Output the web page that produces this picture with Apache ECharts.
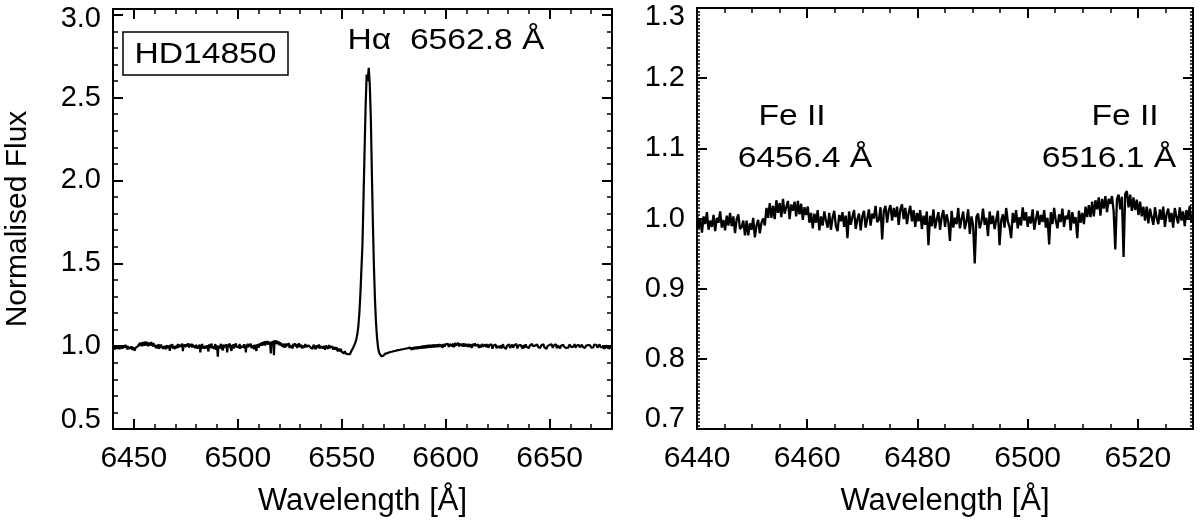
<!DOCTYPE html>
<html><head><meta charset="utf-8">
<script src="https://cdn.jsdelivr.net/npm/echarts@6/dist/echarts.min.js"></script>
<style>html,body{margin:0;padding:0;background:#fff}#c{width:1200px;height:522px}</style>
</head><body><div id="c"></div><script>
// ---- tick labels ----
const leftXTicks = [6450, 6500, 6550, 6600, 6650];
const leftYTicks = [0.5, 1.0, 1.5, 2.0, 2.5, 3.0];
const rightXTicks = [6440, 6460, 6480, 6500, 6520];
const rightYTicks = [0.7, 0.8, 0.9, 1.0, 1.1, 1.2, 1.3];

// ---- spectrum, part A: 6440 .. 6530 A, sampled every 0.3 A ----
const specAStart = 6440, specAStep = 0.3;
const specA = [
1.007,0.986,0.999,0.980,1.003,0.992,1.009,0.984,0.997,0.988,
1.005,0.982,1.001,0.994,1.010,0.987,0.998,0.983,1.004,0.990,
1.008,0.989,1.003,0.979,0.999,1.006,0.985,0.988,0.997,0.976,
0.997,0.976,0.993,0.984,1.001,0.973,0.990,0.998,0.979,0.994,
1.000,0.990,1.015,1.001,1.022,1.001,1.018,0.999,1.026,1.008,
1.022,1.002,1.028,1.007,1.016,1.025,0.999,1.020,1.011,1.024,
1.003,1.025,1.006,1.021,0.998,1.016,1.005,1.017,0.994,1.008,
0.986,1.007,0.994,1.012,0.983,1.003,0.990,1.010,0.997,0.987,
1.008,0.984,1.001,1.011,0.989,0.982,1.005,0.996,1.009,0.988,
1.004,0.972,1.010,0.991,1.002,1.012,0.985,0.999,1.007,0.983,
1.003,1.011,0.987,1.000,1.013,0.990,1.007,1.000,1.018,0.995,
0.998,1.016,0.970,1.011,1.018,0.994,1.012,1.019,0.997,1.015,
1.002,1.017,0.991,1.013,1.020,0.999,1.015,0.992,1.008,1.018,
0.996,1.012,0.988,1.008,0.996,1.012,0.985,1.004,0.991,1.010,
0.962,1.004,0.989,1.013,0.986,0.999,1.009,0.984,1.002,1.012,
0.988,1.006,0.995,0.968,1.011,0.987,1.001,0.992,1.015,0.986,
0.999,1.010,0.985,0.996,1.013,0.978,1.003,0.990,0.936,1.002,
1.007,0.986,0.995,1.014,0.991,1.001,0.975,1.010,0.992,1.004,
0.985,0.998,1.011,0.962,0.997,1.006,0.987,1.015,0.996,0.988,
0.972,1.008,0.994,1.012,0.986,1.002,0.990,1.016,0.997,1.009,
0.988,1.003,0.993,1.013,0.984,0.999,1.011,0.991,1.005,0.995,
1.012,0.987,1.001,0.963,1.009,0.992,1.015,0.997,0.986,1.006,
0.995,1.014,0.988,1.004,0.999,1.012,0.983,1.009,0.993,1.002,
0.972,1.011,0.994,1.008,0.992,1.017,1.002,1.019,1.002,1.024,
1.003,1.026,1.013,1.030,1.004,1.028,1.014,1.032,1.009,1.028,
1.021,1.032,1.010,0.956,1.028,1.034,1.013,1.031,0.945,1.035,
1.039,1.016,1.034,1.011,1.030,1.012,1.027,1.005,1.024,1.003,
1.017,0.997,1.017,0.993,1.014,1.002,0.991,1.016,1.001,0.992,
1.013,0.998,1.017,0.988,1.006,1.014,0.995,1.008,0.987,1.015,
1.002,0.993,1.016,0.997,1.010,0.989,1.012,0.999,1.018,0.994,
1.004
];

// ---- spectrum, part B: 6530.5 .. 6680 A, sampled every 0.5 A ----
const specBStart = 6530.5, specBStep = 0.5;
const specB = [
1.008,0.986,1.003,0.990,1.012,0.995,0.983,1.005,1.010,0.992,
1.001,0.984,1.008,0.995,0.981,1.006,0.990,1.010,0.986,1.000,
1.008,0.987,1.002,0.978,1.004,0.992,0.984,1.006,0.990,1.001,
0.999,0.979,0.994,0.979,0.993,0.969,0.985,0.969,0.984,0.966,
0.976,0.957,0.970,0.955,0.967,0.951,0.963,0.952,0.967,0.975,
0.990,1.000,1.020,1.040,1.070,1.120,1.200,1.320,1.470,1.620,
1.900,2.180,2.450,2.640,2.600,2.680,2.580,2.380,2.050,1.740,
1.480,1.280,1.140,1.050,0.990,0.960,0.948,0.940,0.937,0.942,
0.946,0.955,0.944,0.958,0.950,0.963,0.952,0.966,0.955,0.969,
0.960,0.972,0.963,0.976,0.965,0.978,0.968,0.981,0.970,0.983,
0.972,0.986,0.975,0.988,0.977,0.991,0.978,0.993,0.980,0.995,
0.982,0.997,0.983,0.999,0.985,1.000,0.986,1.003,0.987,1.004,
0.988,1.006,0.990,1.007,0.991,1.008,0.992,1.010,0.993,1.009,
0.994,1.011,0.995,1.012,0.996,1.010,0.990,1.013,0.997,1.011,
1.002,1.015,0.995,1.013,1.018,0.999,1.016,0.993,1.019,1.003,
1.012,1.020,0.999,1.014,1.023,1.001,1.017,0.997,1.013,1.021,
0.997,1.014,0.995,1.012,0.989,1.015,1.000,1.017,1.002,0.996,
1.011,0.990,1.008,0.992,1.013,0.998,0.987,1.010,0.995,1.012,
0.990,1.005,0.997,1.012,0.985,1.003,0.993,1.010,0.988,1.001,
1.008,0.990,1.004,0.987,1.012,0.995,1.006,0.983,1.002,0.993,
1.011,0.989,0.998,1.009,0.991,1.006,0.996,1.013,0.986,1.003,
0.993,1.008,0.998,0.985,1.006,0.990,1.011,0.996,1.003,0.988,
1.005,0.994,1.013,0.999,0.987,1.003,0.991,1.010,0.995,1.001,
0.989,1.006,0.996,1.011,0.993,1.003,0.984,1.000,0.991,1.008,
0.998,1.011,0.990,1.003,0.995,1.012,0.988,1.005,0.999,0.987,
1.002,0.993,1.009,0.996,1.006,0.989,1.000,0.991,1.010,0.998,
0.994,1.005,0.998,1.012,0.990,1.003,0.995,1.008,0.993,1.001,
1.009,0.995,1.005,0.989,1.002,0.993,1.007,0.997,1.005,0.991,
1.003,0.993,1.010,0.998,1.007,0.991,1.000,1.011,0.995,1.004,
0.992,1.001,0.986,0.997,1.005,0.989,0.995,0.987,1.000,0.990
];

const starName = 'HD14850';
const lineLabel = 'H\u03b1  6562.8 \u00c5';
const feLeft = ['Fe II', '6456.4 \u00c5'];
const feRight = ['Fe II', '6516.1 \u00c5'];

const pairsA = specA.map((v, i) => [specAStart + specAStep * i, v]);
const pairsB = specB.map((v, i) => [specBStart + specBStep * i, v]);

const FONT = "'Liberation Sans', Arial, Helvetica, sans-serif";
const BLACK = '#000';

function axisGroup(kind, grid, min, max, ticks, minorStep, minorLen, extra, shifts) {
  const pos = kind === 'x' ? ['bottom', 'top'] : ['left', 'right'];
  const fs = kind === 'x' ? 30 : 29;
  const base = { type: 'value', gridIndex: grid, min: min, max: max, splitLine: { show: false }, splitArea: { show: false } };
  const lineOn = { show: true, onZero: false, lineStyle: { color: BLACK, width: 2 } };
  const majorTick = { show: true, inside: true, length: 10, lineStyle: { color: BLACK, width: 2 }, customValues: ticks };
  const minorTick = { show: true, inside: true, length: minorLen, lineStyle: { color: BLACK, width: 1.5 } };
  const rich = {};
  (shifts || []).forEach((s, k) => {
    rich['s' + k] = { fontFamily: FONT, fontSize: fs, color: BLACK, padding: s.padding };
  });
  const fmt = v => {
    const t = kind === 'x' ? String(Math.round(v)) : v.toFixed(1);
    const k = (shifts || []).findIndex(s => Math.abs(s.value - v) < 1e-6);
    return k >= 0 ? '{s' + k + '|' + t + '}' : t;
  };
  return [
    Object.assign({}, base, {
      position: pos[0], axisLine: lineOn, axisTick: majorTick,
      axisLabel: { show: true, customValues: ticks, formatter: fmt, fontFamily: FONT,
        fontSize: fs, color: BLACK, margin: kind === 'x' ? 15 : 12, rich: rich }
    }, extra || {}),
    Object.assign({}, base, { position: pos[0], interval: minorStep, axisLine: { show: false }, axisTick: minorTick, axisLabel: { show: false } }),
    Object.assign({}, base, { position: pos[1], axisLine: lineOn, axisTick: majorTick, axisLabel: { show: false } }),
    Object.assign({}, base, { position: pos[1], interval: minorStep, axisLine: { show: false }, axisTick: minorTick, axisLabel: { show: false } })
  ];
}

const xName = { name: 'Wavelength [\u00c5]', nameLocation: 'middle', nameGap: 57,
  nameTextStyle: { fontFamily: FONT, fontSize: 31, color: BLACK } };
const yName = { name: 'Normalised Flux', nameLocation: 'middle', nameGap: 80, nameRotate: 90,
  nameTextStyle: { fontFamily: FONT, fontSize: 30, color: BLACK } };

const xAxes = [].concat(
  axisGroup('x', 0, 6440, 6680, leftXTicks, 10, 5, xName),
  axisGroup('x', 1, 6440, 6530, rightXTicks, 5, 5, xName)
);
const yAxes = [].concat(
  axisGroup('y', 0, 0.5, 3.035, leftYTicks, 0.1, 5, yName,
    [{ value: 0.5, padding: [0, 0, 18, 0] }, { value: 3.0, padding: [8, 0, 0, 0] }]),
  axisGroup('y', 1, 0.7, 1.3, rightYTicks, 0.005, 3, {},
    [{ value: 0.7, padding: [0, 0, 20, 0] }, { value: 1.3, padding: [18, 0, 0, 0] }])
);

function txt(x, y, s) {
  return { type: 'text', x: x, y: y, scaleX: 1.12, z: 10,
    style: { text: s, fontFamily: FONT, fontSize: 30, fill: BLACK, align: 'center', verticalAlign: 'middle' } };
}

const chart = echarts.init(document.getElementById('c'), null, { renderer: 'canvas' });
chart.setOption({
  animation: false,
  backgroundColor: '#fff',
  grid: [
    { left: 113, right: 588, top: 9, bottom: 92 },
    { left: 697, right: 7, top: 8, bottom: 92 }
  ],
  xAxis: xAxes,
  yAxis: yAxes,
  series: [
    { type: 'line', xAxisIndex: 0, yAxisIndex: 0, data: pairsA.concat(pairsB), showSymbol: false,
      lineStyle: { color: BLACK, width: 2.2 }, clip: true, silent: true },
    { type: 'line', xAxisIndex: 4, yAxisIndex: 4, data: pairsA, showSymbol: false,
      lineStyle: { color: BLACK, width: 2.3 }, clip: true, silent: true }
  ],
  graphic: [
    { type: 'rect', shape: { x: 123, y: 32, width: 165, height: 43 }, style: { fill: '#fff', stroke: BLACK, lineWidth: 1.5 }, z: 9 },
    txt(205.5, 55, starName),
    txt(446, 41, lineLabel),
    txt(792, 117, feLeft[0]),
    txt(805, 159, feLeft[1]),
    txt(1125, 117, feRight[0]),
    txt(1109, 159, feRight[1])
  ]
});
</script></body></html>
